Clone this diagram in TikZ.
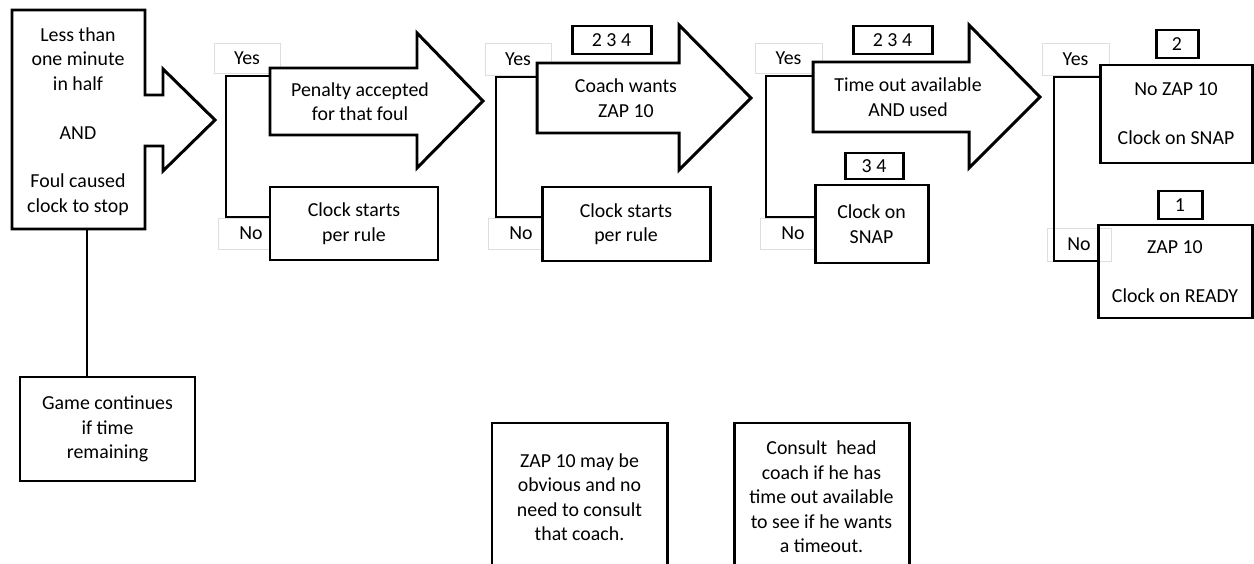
\documentclass[tikz,border=0pt]{standalone}
\usepackage{fontspec}
\setmainfont{Carlito}

\begin{document}
\begin{tikzpicture}[x=0.02cm, y=-0.02cm, font=\fontsize{11.3}{13.9}\selectfont,
    sz/.style 2 args={minimum width=#1*0.02cm, minimum height=#2*0.02cm},
    box/.style={draw, line width=1.7pt, fill=white, inner sep=0pt, align=center},
    tag/.style={draw=black!13, line width=0.5pt, fill=white, inner sep=0pt},
    link/.style={line width=0.8pt},
    bigarrow/.style={draw, line width=1.7pt, fill=white, line join=miter},
    txt/.style={align=center, inner sep=0pt}]
  \useasboundingbox (0,0) rectangle (1254,564);
  \clip (0,0) rectangle (1254,564);

  % yes / no tags
  \node[tag, sz={66}{30}] (yes1) at (247,58) {Yes};
  \node[tag, sz={66}{31}] (no1) at (251,233.5) {No};
  \node[tag, sz={66}{32}] (yes2) at (518,59) {Yes};
  \node[tag, sz={66}{31}] (no2) at (521,233.5) {No};
  \node[tag, sz={67}{30}] (yes3) at (788.5,58) {Yes};
  \node[tag, sz={66}{31}] (no3) at (793,233.5) {No};
  \node[tag, sz={67}{32}] (yes4) at (1075.5,59) {Yes};
  \node[tag, sz={64}{33}] (no4) at (1079,244.5) {No};

  % branch lines
  \coordinate (top1) at (270,76);   \coordinate (bot1) at (270,217);
  \coordinate (top2) at (537,77);   \coordinate (bot2) at (542,217);
  \coordinate (top3) at (813,76);   \coordinate (bot3) at (815,217);
  \coordinate (top4) at (1100,77);  \coordinate (bot4) at (1098,261);
  \draw[link] (top1) -- (226,76) -- (226,217) -- (bot1);
  \draw[link] (top2) -- (496,77) -- (496,217) -- (bot2);
  \draw[link] (top3) -- (766,76) -- (766,217) -- (bot3);
  \draw[link] (top4) -- (1054,77) -- (1054,261) -- (bot4);

  % start shape
  \draw[bigarrow] (12,10) -- (145,10) -- (145,95) -- (163,95) -- (163,69) -- (215,120)
        -- (163,171) -- (163,146) -- (145,146) -- (145,229) -- (12,229) -- cycle;
  \node[txt] (cond) at (78,121.5)
       {Less than\\one minute\\in half\\[13.9pt]AND\\[13.9pt]Foul caused\\clock to stop};
  \coordinate (condbot) at (87,229);
  \node[box, sz={175}{104}] (game) at (107.5,429) {Game continues\\if time\\remaining};
  \draw[link] (condbot) -- (condbot |- game.north);

  % decision arrows
  \draw[bigarrow] (270,68) -- (417,68) -- (417,33) -- (483,101) -- (417,168) -- (417,135) -- (270,135) -- cycle;
  \node[txt] (penalty) at (360,101.5) {Penalty accepted\\for that foul};
  \draw[bigarrow] (537,63) -- (679,63) -- (679,25) -- (751,98) -- (679,170) -- (679,133) -- (537,133) -- cycle;
  \node[txt] (coach) at (626,98) {Coach wants\\ZAP 10};
  \draw[bigarrow] (813,62) -- (969,62) -- (969,25) -- (1040,97) -- (969,168) -- (969,132) -- (813,132) -- cycle;
  \node[txt] (timeout) at (908,97) {Time out available\\AND used};

  % outcomes
  \node[box, sz={168}{73}] (rule1) at (354,223.5) {Clock starts\\per rule};
  \node[box, sz={168}{74}] (rule2) at (626,224) {Clock starts\\per rule};
  \node[box, sz={113}{78}] (snap) at (871.5,224) {Clock on\\SNAP};
  \node[box, sz={152}{98}] (nozap) at (1176,114) {No ZAP 10\\[13.9pt]Clock on SNAP};
  \node[box, fill=none, sz={154}{93}] (zap) at (1175,271.5) {ZAP 10\\[13.9pt]Clock on READY};

  % case numbers
  \node[box, sz={79}{28}] (casea) at (611.5,40) {2 3 4};
  \node[box, sz={79}{28}] (caseb) at (892.5,40) {2 3 4};
  \node[box, sz={58}{26}] (casec) at (874,166) {3 4};
  \node[box, sz={42}{28}] (cased) at (1177,44) {2};
  \node[box, sz={44}{28}] (casee) at (1180,205) {1};

  % notes
  \draw[line width=1.7pt] (492,580) -- (492,423) -- (667,423) -- (667,580);
  \node[txt] (note1) at (579.5,497) {ZAP 10 may be\\obvious and no\\need to consult\\that coach.};
  \draw[line width=1.7pt] (734,580) -- (734,423) -- (909,423) -- (909,580);
  \node[txt] (note2) at (821.5,497) {Consult\ \ head\\coach if he has\\time out available\\to see if he wants\\a timeout.};
\end{tikzpicture}
\end{document}
